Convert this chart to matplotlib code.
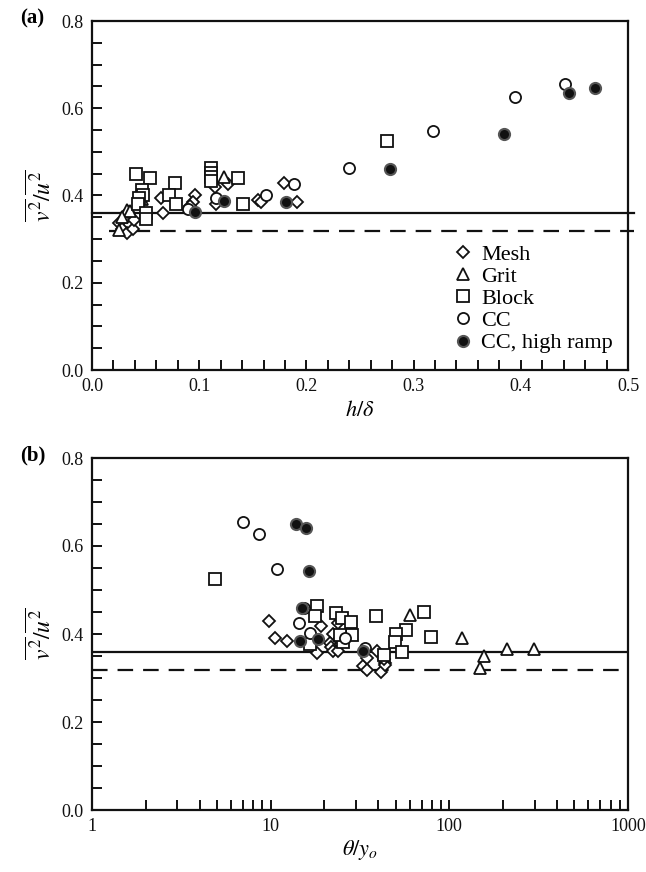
import matplotlib
matplotlib.use("Agg")
import matplotlib.pyplot as plt
from matplotlib.ticker import MultipleLocator, FixedLocator, NullFormatter, LogLocator
import numpy as np

plt.rcParams['font.family'] = ['Liberation Serif', 'DejaVu Serif']
plt.rcParams['mathtext.fontset'] = 'stix'

# ---------------- Panel (a): h/delta ----------------
mesh_a_x = [0.025, 0.028, 0.033, 0.033, 0.038, 0.039, 0.034, 0.064, 0.066, 0.096, 0.094, 0.091,
            0.115, 0.116, 0.127, 0.155, 0.158, 0.179, 0.191]
mesh_a_y = [0.338, 0.323, 0.315, 0.350, 0.324, 0.344, 0.362, 0.394, 0.359, 0.400, 0.385, 0.375,
            0.420, 0.380, 0.426, 0.390, 0.384, 0.429, 0.386]
grit_a_x = [0.123, 0.047, 0.033, 0.035, 0.028, 0.025]
grit_a_y = [0.443, 0.392, 0.367, 0.365, 0.350, 0.322]
block_a_x = [0.041, 0.054, 0.077, 0.072, 0.078, 0.047, 0.048, 0.044, 0.043, 0.050, 0.050,
             0.111, 0.111, 0.111, 0.111, 0.136, 0.141, 0.275]
block_a_y = [0.450, 0.439, 0.429, 0.400, 0.381, 0.412, 0.400, 0.395, 0.381, 0.361, 0.347,
             0.462, 0.452, 0.442, 0.433, 0.439, 0.380, 0.524]
cc_a_x = [0.240, 0.318, 0.395, 0.441, 0.188, 0.162, 0.116, 0.090]
cc_a_y = [0.462, 0.547, 0.625, 0.655, 0.427, 0.400, 0.394, 0.369]
cchr_a_x = [0.469, 0.445, 0.384, 0.278, 0.181, 0.123, 0.096]
cchr_a_y = [0.647, 0.636, 0.542, 0.460, 0.385, 0.388, 0.362]

# ---------------- Panel (b): theta/y_o ----------------
mesh_b_x = [9.77, 10.6, 12.3, 19.1, 18.1, 22.2, 21.5, 21.8, 22.4, 23.7, 23.7, 24.3,
            32.7, 34.8, 34.5, 39.4, 41.6, 43.9, 43.9, 43.2]
mesh_b_y = [0.430, 0.390, 0.385, 0.418, 0.357, 0.399, 0.380, 0.371, 0.362, 0.425, 0.362, 0.390,
            0.327, 0.345, 0.318, 0.362, 0.313, 0.335, 0.330, 0.343]
grit_b_x = [60.5, 118, 157, 149, 211, 298]
grit_b_y = [0.444, 0.392, 0.350, 0.322, 0.366, 0.367]
block_b_x = [4.87, 18.1, 17.8, 23.1, 25.0, 28.1, 28.6, 25.3, 16.7, 39.0, 71.9, 57.4,
             50.1, 49.6, 54.4, 43.2, 79.1, 24.3]
block_b_y = [0.524, 0.463, 0.440, 0.447, 0.437, 0.428, 0.398, 0.382, 0.378, 0.441, 0.449, 0.409,
             0.400, 0.381, 0.360, 0.352, 0.393, 0.397]
cc_b_x = [6.97, 8.55, 10.8, 15.4, 14.4, 16.5, 26.1, 33.9]
cc_b_y = [0.655, 0.627, 0.547, 0.460, 0.426, 0.402, 0.390, 0.369]
cchr_b_x = [13.8, 15.8, 16.3, 15.0, 14.6, 18.3, 32.7]
cchr_b_y = [0.649, 0.640, 0.544, 0.460, 0.385, 0.388, 0.361]

solid_level = 0.36
dashed_level = 0.318

labels = ['Mesh', 'Grit', 'Block', 'CC', 'CC, high ramp']

fig = plt.figure(figsize=(6.46, 8.72), dpi=100)
L, R = 92 / 646, 628 / 646
axa = fig.add_axes([L, 1 - 370 / 872, R - L, (370 - 21) / 872])
axb = fig.add_axes([L, 1 - 810 / 872, R - L, (810 - 458) / 872])

open_kw = dict(linestyle='none', markerfacecolor='white', markeredgecolor='#111111', markeredgewidth=1.3)
filled_kw = dict(linestyle='none', markerfacecolor='#111111', markeredgecolor='#555555', markeredgewidth=1.5)

def draw(ax, data):
    (mx, my), (gx, gy), (bx, by), (cx, cy), (hx, hy) = data
    h1, = ax.plot(mx, my, marker='D', markersize=6, label=labels[0], **open_kw)
    h2, = ax.plot(gx, gy, marker='^', markersize=8, label=labels[1], **open_kw)
    h3, = ax.plot(bx, by, marker='s', markersize=8, label=labels[2], **open_kw)
    h4, = ax.plot(cx, cy, marker='o', markersize=8, label=labels[3], **open_kw)
    h5, = ax.plot(hx, hy, marker='o', markersize=8, label=labels[4], **filled_kw)
    return [h1, h2, h3, h4, h5]

handles = draw(axa, [(mesh_a_x, mesh_a_y), (grit_a_x, grit_a_y), (block_a_x, block_a_y),
                     (cc_a_x, cc_a_y), (cchr_a_x, cchr_a_y)])
draw(axb, [(mesh_b_x, mesh_b_y), (grit_b_x, grit_b_y), (block_b_x, block_b_y),
           (cc_b_x, cc_b_y), (cchr_b_x, cchr_b_y)])

# reference lines
axa.plot([0.0, 0.506], [solid_level, solid_level], color='#111111', lw=1.6, clip_on=False, zorder=1)
axa.plot([0.016, 0.506], [dashed_level, dashed_level], color='#111111', lw=1.6,
         dashes=(7, 4.5), clip_on=False, zorder=1)
axb.axhline(solid_level, color='#111111', lw=1.6, zorder=1)
axb.axhline(dashed_level, color='#111111', lw=1.6, dashes=(7, 4.5), zorder=1)

# axes formatting
axa.set_xlim(0, 0.5)
axa.set_ylim(0, 0.8)
axa.xaxis.set_major_locator(MultipleLocator(0.1))
axa.xaxis.set_minor_locator(MultipleLocator(0.02))
axa.xaxis.set_major_formatter(matplotlib.ticker.FormatStrFormatter('%.1f'))

axb.set_xscale('log')
axb.set_xlim(1, 1000)
axb.set_ylim(0, 0.8)
axb.xaxis.set_major_locator(FixedLocator([1, 10, 100, 1000]))
axb.xaxis.set_major_formatter(matplotlib.ticker.FixedFormatter(['1', '10', '100', '1000']))
axb.xaxis.set_minor_locator(LogLocator(base=10, subs=np.arange(2, 10), numticks=20))
axb.xaxis.set_minor_formatter(NullFormatter())

for ax in (axa, axb):
    ax.yaxis.set_major_locator(MultipleLocator(0.2))
    ax.yaxis.set_minor_locator(MultipleLocator(0.05))
    ax.yaxis.set_major_formatter(matplotlib.ticker.FormatStrFormatter('%.1f'))
    ax.tick_params(which='both', direction='in', top=False, right=False,
                   labelsize=13, colors='#111111', width=1.4)
    ax.tick_params(which='major', length=7, pad=6)
    ax.tick_params(which='minor', length=7)
    for s in ax.spines.values():
        s.set_linewidth(1.6)
        s.set_color('#111111')
    ax.set_ylabel(r'$\overline{v^2}/\overline{u^2}$', fontsize=17, labelpad=4)

axa.set_xlabel(r'$h/\delta$', fontsize=16, labelpad=4)
axb.set_xlabel(r'$\theta/y_o$', fontsize=16, labelpad=2)

leg = axa.legend(handles=handles, loc='lower right', bbox_to_anchor=(0.98, 0.035), frameon=False,
                 fontsize=16, handlelength=0.8, handletextpad=0.4, labelspacing=0.07,
                 borderaxespad=0.0, borderpad=0.2)

fig.text(20 / 646, 1 - 18 / 872, '(a)', fontsize=15, fontweight='bold', va='center', ha='left')
fig.text(20 / 646, 1 - 455 / 872, '(b)', fontsize=15, fontweight='bold', va='center', ha='left')

fig.savefig('out.png', dpi=100)
